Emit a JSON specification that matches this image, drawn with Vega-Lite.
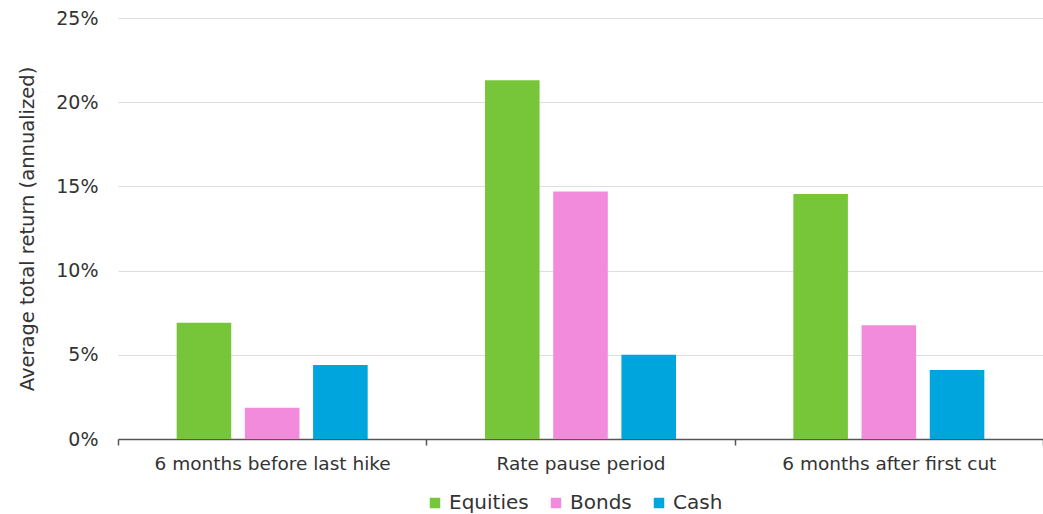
{
  "$schema": "https://vega.github.io/schema/vega-lite/v6.json",
  "autosize": "none",
  "width": 925,
  "height": 421,
  "padding": {"left": 118, "top": 18, "right": 0, "bottom": 75},
  "background": "white",
  "data": {
    "values": [
      {"period": "6 months before last hike", "asset": "Equities", "ret": 6.9},
      {"period": "6 months before last hike", "asset": "Bonds", "ret": 1.85},
      {"period": "6 months before last hike", "asset": "Cash", "ret": 4.4},
      {"period": "Rate pause period", "asset": "Equities", "ret": 21.3},
      {"period": "Rate pause period", "asset": "Bonds", "ret": 14.7},
      {"period": "Rate pause period", "asset": "Cash", "ret": 5.0},
      {"period": "6 months after first cut", "asset": "Equities", "ret": 14.55},
      {"period": "6 months after first cut", "asset": "Bonds", "ret": 6.75},
      {"period": "6 months after first cut", "asset": "Cash", "ret": 4.1}
    ]
  },
  "mark": {"type": "bar"},
  "encoding": {
    "x": {
      "field": "period",
      "type": "nominal",
      "sort": ["6 months before last hike", "Rate pause period", "6 months after first cut"],
      "scale": {"paddingInner": 0, "paddingOuter": 0},
      "axis": {
        "title": null,
        "labelAngle": 0,
        "labelLimit": 0,
        "labelFont": "DejaVu Sans",
        "labelFontSize": 18.5,
        "labelColor": "#333333",
        "labelPadding": 9,
        "tickBand": "extent",
        "tickSize": 6,
        "tickColor": "#555555",
        "tickWidth": 1.5,
        "domainColor": "#555555",
        "domainWidth": 1.5,
        "grid": false
      }
    },
    "xOffset": {
      "field": "asset",
      "type": "nominal",
      "sort": ["Equities", "Bonds", "Cash"],
      "scale": {"paddingInner": 0.2, "paddingOuter": 0.86}
    },
    "y": {
      "field": "ret",
      "type": "quantitative",
      "scale": {"domain": [0, 25], "nice": false},
      "axis": {
        "title": "Average total return (annualized)",
        "titleFont": "DejaVu Sans",
        "titleFontSize": 19.5,
        "titleFontWeight": "normal",
        "titleColor": "#333333",
        "titlePadding": 18,
        "values": [0, 5, 10, 15, 20, 25],
        "labelExpr": "datum.value + '%'",
        "labelFont": "DejaVu Sans",
        "labelFontSize": 19,
        "labelColor": "#333333",
        "labelPadding": 20,
        "ticks": false,
        "domain": false,
        "grid": true,
        "gridColor": "#dddddd",
        "gridWidth": 1
      }
    },
    "color": {
      "field": "asset",
      "type": "nominal",
      "sort": ["Equities", "Bonds", "Cash"],
      "scale": {"domain": ["Equities", "Bonds", "Cash"], "range": ["#77c639", "#f28bdc", "#00a5de"]},
      "legend": {
        "title": null,
        "orient": "none",
        "legendX": 307,
        "legendY": 475,
        "direction": "horizontal",
        "symbolType": "square",
        "symbolSize": 110,
        "symbolStrokeWidth": 0,
        "symbolOpacity": 1,
        "labelFont": "DejaVu Sans",
        "labelFontSize": 20,
        "labelColor": "#333333",
        "columnPadding": 17,
        "labelOffset": 4
      }
    }
  },
  "config": {"view": {"stroke": null}}
}
